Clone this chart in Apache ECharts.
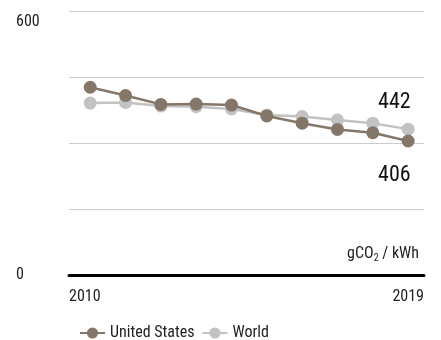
<!DOCTYPE html>
<html>
<head>
<meta charset="utf-8">
<script src="https://cdn.jsdelivr.net/npm/echarts@6/dist/echarts.min.js"></script>
<style>
html,body{margin:0;padding:0;background:#fff;}
#chart{width:441px;height:340px;}
</style>
</head>
<body>
<div id="chart"></div>
<script>
const years = [2010, 2011, 2012, 2013, 2014, 2015, 2016, 2017, 2018, 2019];
const usValues = [569, 544, 517, 518, 515, 482, 460, 441, 431, 406];
const worldValues = [521, 523, 512, 510, 503, 485, 480, 470, 460, 442];
const seriesNames = ['United States', 'World'];
const yTickValues = [0, 800];
const yTickLabels = ['0', '600'];
const xTickLabels = ['2010', '2019'];
const unitLabel = ['gCO', '2', ' / kWh'];

const FONT = "'Liberation Sans Narrow', 'Roboto Condensed', 'Arial Narrow', 'DejaVu Sans Condensed', sans-serif";
const US_COLOR = '#85766a';
const WORLD_COLOR = '#c2c2c2';
const xMin = 2009.4, xMax = 2019.45;

const chart = echarts.init(document.getElementById('chart'), null, {renderer: 'canvas'});

function pairs(vals) { return years.map((y, i) => [y, vals[i]]); }

function lastLabel(vals, posY) {
  return pairs(vals).map((p, i) => {
    if (i !== vals.length - 1) return p;
    return {
      value: p,
      label: {
        show: true,
        formatter: String(vals[i]),
        position: [9, posY],
        align: 'right',
        verticalAlign: 'middle',
        fontFamily: FONT,
        fontSize: 22,
        color: '#111'
      }
    };
  });
}

chart.setOption({
  animation: false,
  textStyle: {fontFamily: FONT},
  grid: {left: 69, right: 17, top: 11, bottom: 65, containLabel: false},
  xAxis: {
    type: 'value',
    min: xMin,
    max: xMax,
    axisLine: {show: true, onZero: true, lineStyle: {color: '#000', width: 3}},
    axisTick: {show: false},
    splitLine: {show: false},
    axisLabel: {
      customValues: [xMin, xMax],
      alignMinLabel: 'left',
      alignMaxLabel: 'right',
      formatter: v => (v < 2015 ? xTickLabels[0] : xTickLabels[1]),
      margin: 14,
      fontFamily: FONT,
      fontSize: 16,
      color: '#222'
    }
  },
  yAxis: {
    type: 'value',
    min: 0,
    max: 800,
    interval: 200,
    axisLine: {show: false},
    axisTick: {show: false},
    splitLine: {lineStyle: {color: '#cccccc', width: 1}},
    axisLabel: {
      align: 'left',
      margin: 53,
      fontFamily: FONT,
      fontSize: 16,
      color: '#222',
      formatter: v => {
        const k = yTickValues.indexOf(v);
        if (k < 0) return '';
        return k === yTickValues.length - 1 ? '{t|' + yTickLabels[k] + '}' : yTickLabels[k];
      },
      rich: {
        t: {fontFamily: FONT, fontSize: 16, color: '#222', padding: [22, 0, 0, 0]}
      }
    }
  },
  legend: {
    left: 74,
    top: 320,
    itemWidth: 25,
    itemHeight: 14,
    itemGap: 7,
    textStyle: {fontFamily: FONT, fontSize: 16, color: '#222'},
    data: seriesNames
  },
  graphic: [{
    type: 'text',
    right: 22,
    top: 246,
    style: {
      rich: {
        a: {fontFamily: FONT, fontSize: 16, fill: '#222'},
        s: {fontFamily: FONT, fontSize: 10, fill: '#222', padding: [8, 0, 0, 0]}
      },
      text: '{a|' + unitLabel[0] + '}{s|' + unitLabel[1] + '}{a|' + unitLabel[2] + '}'
    }
  }],
  series: [
    {
      name: seriesNames[1],
      type: 'line',
      data: lastLabel(worldValues, -20),
      symbol: 'circle',
      symbolSize: 13,
      itemStyle: {color: WORLD_COLOR},
      lineStyle: {color: WORLD_COLOR, width: 2.5},
      z: 2
    },
    {
      name: seriesNames[0],
      type: 'line',
      data: lastLabel(usValues, 41),
      symbol: 'circle',
      symbolSize: 13,
      itemStyle: {color: US_COLOR},
      lineStyle: {color: US_COLOR, width: 2.5},
      z: 3
    }
  ]
});
</script>
</body>
</html>
